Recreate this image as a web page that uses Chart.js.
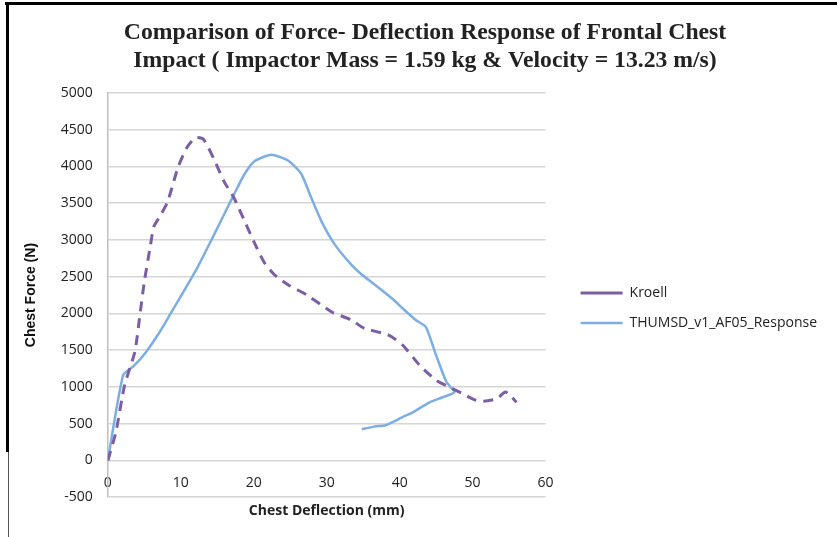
<!DOCTYPE html>
<html>
<head>
<meta charset="utf-8">
<script src="https://cdn.jsdelivr.net/npm/chart.js@4/dist/chart.umd.min.js"></script>
<style>
  html, body { margin: 0; padding: 0; background: #fff; }
  #wrap { position: relative; width: 837px; height: 537px; }
  #edgeTop { position: absolute; left: 5px; top: 2px; width: 832px; height: 3px; background: #000; }
  #edgeLeft { position: absolute; left: 6px; top: 2px; width: 3px; height: 450px; background: #000; }
  #edgeLeft2 { position: absolute; left: 8px; top: 452px; width: 1px; height: 85px; background: #555; }
</style>
</head>
<body>
<div id="wrap">
  <canvas id="forceChart"></canvas>
  <div id="edgeTop"></div>
  <div id="edgeLeft"></div>
  <div id="edgeLeft2"></div>
</div>
<script>
// Kroell corridor (deflection mm, force N)
var kroellX = [0, 1.1, 2.3, 3.7, 4.4, 5.0, 5.8, 6.3, 7.2, 8.2, 9.6, 10.8, 12.0, 13.1, 14.5, 15.9, 17.3, 18.6, 20.0, 21.4, 22.8, 24.7, 27.3, 30.7, 33.4, 35.1, 38.5, 40.4, 42.7, 45.0, 47.3, 48.7, 50.3, 51.5, 53.3, 54.5, 55.4, 56.0];
var kroellY = [0, 380, 1025, 1475, 1980, 2430, 2900, 3180, 3330, 3520, 3980, 4250, 4390, 4370, 4110, 3800, 3570, 3290, 2980, 2700, 2530, 2390, 2250, 2020, 1910, 1800, 1705, 1570, 1300, 1090, 975, 905, 825, 805, 840, 930, 860, 790];

// THUMS response
var thumsX = [0, 2.1, 3.6, 5.2, 7.0, 8.5, 10.4, 12.2, 14.1, 15.9, 17.3, 18.7, 20.1, 22.4, 24.7, 26.5, 27.9, 29.3, 31.1, 33.4, 34.8, 37.0, 39.0, 40.4, 42.2, 43.6, 45.0, 46.4, 47.5, 45.9, 44.1, 41.8, 40.4, 39.0, 38.1, 36.5, 34.8];
var thumsY = [0, 1160, 1290, 1470, 1730, 1980, 2300, 2610, 2980, 3340, 3620, 3890, 4070, 4160, 4080, 3900, 3570, 3250, 2940, 2660, 2530, 2360, 2200, 2070, 1910, 1815, 1430, 1070, 930, 860, 790, 655, 590, 520, 480, 460, 425];

var seriesNames = ["Kroell", "THUMSD_v1_AF05_Response"];
var titleLines = ["Comparison of Force- Deflection Response of Frontal Chest", "Impact ( Impactor Mass = 1.59 kg & Velocity = 13.23 m/s)"];

function toPoints(xs, ys) {
  return xs.map(function (x, i) { return {x: x, y: ys[i]}; });
}

var tickFont = { family: "'Open Sans', sans-serif", size: 14 };

new Chart("forceChart", {
  type: "scatter",
  data: {
    datasets: [{
      label: seriesNames[0],
      data: toPoints(kroellX, kroellY),
      xAxisID: "x",
      yAxisID: "y",
      showLine: true,
      borderColor: "#7B5EA3",
      backgroundColor: "#7B5EA3",
      borderWidth: 3,
      borderDash: [10, 7],
      pointRadius: 0,
      tension: 0.2
    }, {
      label: seriesNames[1],
      data: toPoints(thumsX, thumsY),
      xAxisID: "x",
      yAxisID: "y",
      showLine: true,
      borderColor: "#7DAEE2",
      backgroundColor: "#7DAEE2",
      borderWidth: 2.5,
      pointRadius: 0,
      tension: 0.2
    }]
  },
  options: {
    responsive: true,
    maintainAspectRatio: false,
    animation: false,
    layout: { padding: { left: 23, right: 10, top: 5, bottom: 18 } },
    plugins: {
      title: {
        display: true,
        text: titleLines,
        color: "#222",
        font: { family: "'Liberation Serif', serif", size: 23.7, weight: "bold", lineHeight: 1.18 },
        padding: { top: 14, bottom: 18 }
      },
      legend: {
        position: "right",
        maxWidth: 320,
        title: { display: true, text: " ", font: { size: 10 }, padding: { top: 80, bottom: 0 } },
        labels: {
          usePointStyle: true,
          pointStyle: "line",
          pointStyleWidth: 42,
          color: "#222",
          font: tickFont,
          padding: 16
        }
      },
      tooltip: { enabled: false }
    },
    scales: {
      x: {
        type: "linear",
        position: { y: 0 },
        min: 0,
        max: 60,
        ticks: { stepSize: 10, color: "#222", padding: 6, font: tickFont },
        grid: { display: false },
        border: { display: false }
      },
      xTitle: {
        type: "linear",
        position: "bottom",
        ticks: { display: false },
        grid: { display: false, drawTicks: false },
        border: { display: false },
        title: {
          display: true,
          text: "Chest Deflection (mm)",
          color: "#222",
          font: { family: "'Open Sans', sans-serif", size: 14, weight: "bold" },
          padding: { top: 5, bottom: 0 }
        }
      },
      gap: {
        type: "linear",
        position: "right",
        ticks: { display: false },
        grid: { display: false, drawTicks: false },
        border: { display: false },
        afterFit: function (scale) { scale.width = 19; }
      },
      y: {
        min: -500,
        max: 5000,
        ticks: {
          stepSize: 500, color: "#222", padding: 15, font: tickFont,
          callback: function (v) { return String(v); }
        },
        grid: { color: "#d6d6d6", lineWidth: 1.5, drawTicks: false },
        border: { display: true, color: "#bfbfbf", width: 1.5 },
        title: {
          display: true,
          text: "Chest Force (N)",
          color: "#111",
          font: { family: "'Liberation Sans', sans-serif", size: 14, weight: "bold" },
          padding: { top: 0, bottom: 6 }
        }
      }
    }
  }
});
</script>
</body>
</html>
